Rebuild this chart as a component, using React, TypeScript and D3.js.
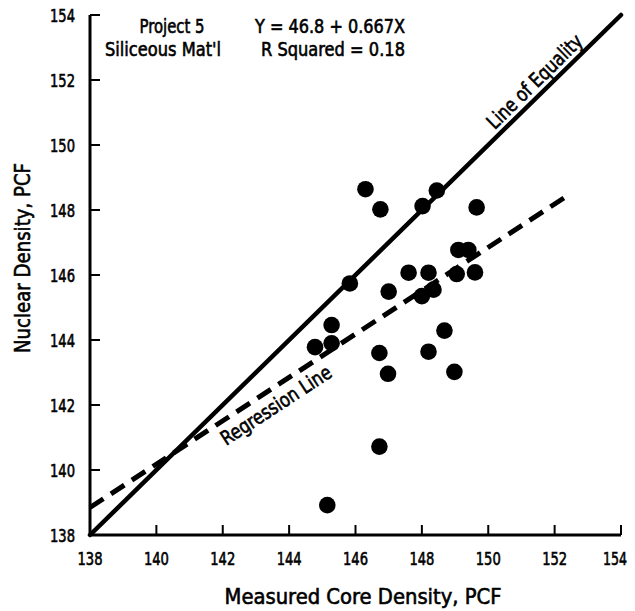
import React from "react";
import * as d3 from "d3";

const xTicks = [138, 140, 142, 144, 146, 148, 150, 152, 154];
const yTicks = [138, 140, 142, 144, 146, 148, 150, 152, 154];

const measured = [146.3, 146.75, 148.02, 148.45, 149.65, 145.83, 147.6, 148.2, 147.0, 148.0, 148.35, 149.05, 149.1, 149.4, 149.6, 148.68, 148.2, 148.98, 146.72, 146.98, 144.78, 145.28, 145.28, 146.72, 145.15];
const nuclear = [148.64, 148.02, 148.12, 148.6, 148.08, 145.74, 146.07, 146.07, 145.49, 145.35, 145.55, 146.03, 146.77, 146.77, 146.08, 144.29, 143.64, 143.02, 143.6, 142.96, 143.78, 144.46, 143.9, 140.72, 138.92];

const regIntercept = 46.8;
const regSlope = 0.667;
const regRange = [138, 152.4];
const eqRange = [138, 154];

const headerLeft = ["Project 5", "Siliceous Mat'l"];
const headerRight = ["Y = 46.8 + 0.667X", "R Squared = 0.18"];

const FONT = "'Liberation Sans Narrow', 'Arial Narrow', 'DejaVu Sans Condensed', sans-serif";

export default function App() {
  const W = 635;
  const H = 611;
  const x = d3.scaleLinear().domain([138, 154]).range([90, 621]);
  const y = d3.scaleLinear().domain([138, 154]).range([535, 15]);

  const line = d3.line<[number, number]>().x((d) => x(d[0])).y((d) => y(d[1]));
  const eqPts: [number, number][] = eqRange.map((v) => [v, v]);
  const regPts: [number, number][] = regRange.map((v) => [v, regIntercept + regSlope * v]);

  const eqAngle = (Math.atan2(y(154) - y(138), x(154) - x(138)) * 180) / Math.PI;
  const regAngle =
    (Math.atan2(y(regIntercept + regSlope * 152) - y(regIntercept + regSlope * 138), x(152) - x(138)) * 180) /
    Math.PI;

  const eqLabelX = 151.67;
  const regLabelX = 143.34;

  const tp = { fill: "#000", stroke: "#000", strokeWidth: 0.6, lengthAdjust: "spacingAndGlyphs" as const };

  return (
    <svg
      width={W}
      height={H}
      style={{ position: "absolute", left: 0, top: 0, background: "#fff" }}
      fontFamily={FONT}
    >
      <rect width={W} height={H} fill="#fff" />
      {/* axes */}
      <line x1={x(138)} y1={y(138)} x2={x(154)} y2={y(138)} stroke="#000" strokeWidth={3} />
      <line x1={x(138)} y1={y(138)} x2={x(138)} y2={y(154)} stroke="#000" strokeWidth={3} />
      {xTicks.map((t, i) => (
        <g key={"xt" + t}>
          <line x1={x(t)} x2={x(t)} y1={y(138)} y2={y(138) - 10} stroke="#000" strokeWidth={2} />
          <text
            x={i === xTicks.length - 1 ? W - 8 : x(t)}
            y={y(138) + 30}
            textAnchor={i === xTicks.length - 1 ? "end" : "middle"}
            fontSize={18}
            textLength={i === xTicks.length - 1 ? 24 : 25}
            {...tp}
          >
            {t}
          </text>
        </g>
      ))}
      {yTicks.map((t) => (
        <g key={"yt" + t}>
          <line x1={x(138)} x2={x(138) + 10} y1={y(t)} y2={y(t)} stroke="#000" strokeWidth={2} />
          <text x={75} y={y(t) + 6.5} textAnchor="end" fontSize={18} textLength={25} {...tp}>
            {t}
          </text>
        </g>
      ))}
      {/* axis titles */}
      <text x={363} y={604} textAnchor="middle" fontSize={22} textLength={277} {...tp}>
        Measured Core Density, PCF
      </text>
      <text transform={`translate(30,258) rotate(-90)`} textAnchor="middle" fontSize={22} textLength={190} {...tp}>
        Nuclear Density, PCF
      </text>

      {/* header */}
      <text x={172} y={33} textAnchor="middle" fontSize={20} textLength={65} {...tp}>
        {headerLeft[0]}
      </text>
      <text x={163} y={56} textAnchor="middle" fontSize={20} textLength={116} {...tp}>
        {headerLeft[1]}
      </text>
      <text x={255} y={33} textAnchor="start" fontSize={20} textLength={150} {...tp}>
        {headerRight[0]}
      </text>
      <text x={261} y={56} textAnchor="start" fontSize={20} textLength={144} {...tp}>
        {headerRight[1]}
      </text>

      {/* lines */}
      <path d={line(eqPts) || ""} stroke="#000" strokeWidth={4.5} fill="none" strokeLinecap="round" />
      <path d={line(regPts) || ""} stroke="#000" strokeWidth={5} fill="none" strokeDasharray="16 9" />

      {/* labels on lines */}
      <text
        transform={`translate(${x(eqLabelX)},${y(eqLabelX)}) rotate(${eqAngle})`}
        y={-6}
        textAnchor="middle"
        fontSize={20}
        textLength={125}
        {...tp}
      >
        Line of Equality
      </text>
      <text
        transform={`translate(${x(regLabelX)},${y(regIntercept + regSlope * regLabelX)}) rotate(${regAngle})`}
        y={23}
        textAnchor="middle"
        fontSize={20}
        textLength={128}
        {...tp}
      >
        Regression Line
      </text>

      {/* points */}
      {measured.map((m, i) => (
        <circle key={"p" + i} cx={x(m)} cy={y(nuclear[i])} r={8.3} fill="#000" />
      ))}
    </svg>
  );
}
